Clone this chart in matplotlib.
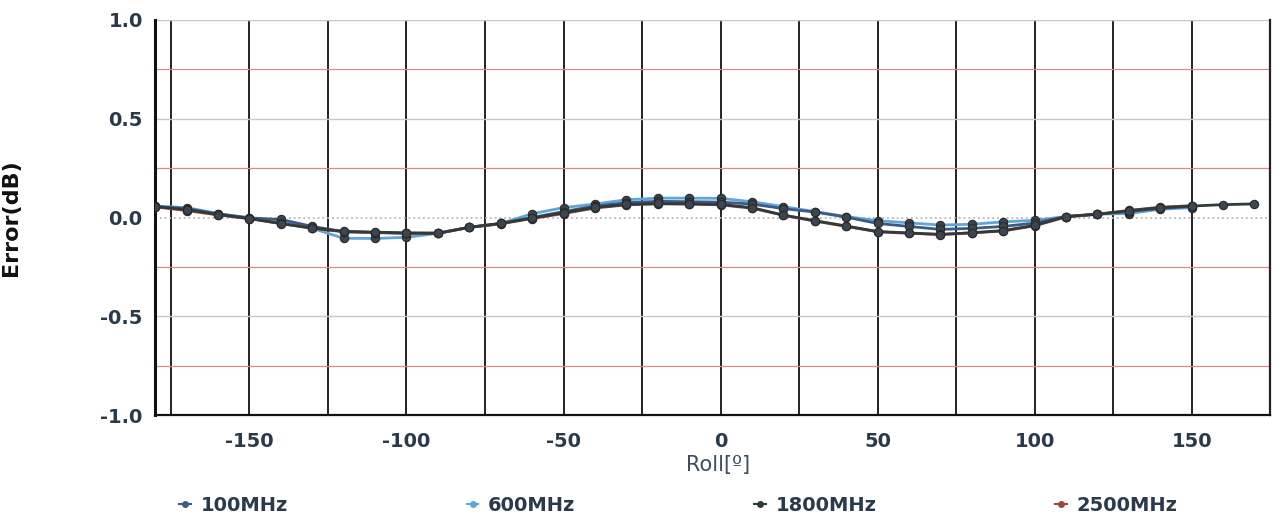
import numpy as np
import matplotlib
matplotlib.use("Agg")
import matplotlib.pyplot as plt
from matplotlib.lines import Line2D

plt.rcParams["axes.unicode_minus"] = False

# roll angles (deg)
roll = list(range(-180, 180, 10))          # -180 .. 170
roll_short = list(range(-180, 160, 10))    # -180 .. 150

err_100 = [0.056, 0.045, 0.018, -0.002, -0.010, -0.045, -0.072, -0.076, -0.080, -0.080,
           -0.050, -0.030, 0.000, 0.030, 0.058, 0.075, 0.082, 0.080, 0.078, 0.068,
           0.045, 0.028, 0.002, -0.030, -0.045, -0.060, -0.055, -0.045, -0.028, 0.005,
           0.017, 0.030, 0.046, 0.056]
err_600 = [0.058, 0.050, 0.020, -0.002, -0.020, -0.055, -0.105, -0.106, -0.100, -0.080,
           -0.050, -0.030, 0.019, 0.050, 0.068, 0.090, 0.098, 0.098, 0.097, 0.080,
           0.055, 0.030, 0.005, -0.016, -0.027, -0.038, -0.034, -0.022, -0.014, 0.005,
           0.017, 0.020, 0.042, 0.050]
err_1800 = [0.055, 0.040, 0.015, -0.005, -0.031, -0.053, -0.070, -0.074, -0.078, -0.080,
            -0.049, -0.030, -0.003, 0.024, 0.051, 0.066, 0.071, 0.069, 0.066, 0.050,
            0.012, -0.016, -0.043, -0.071, -0.078, -0.086, -0.077, -0.066, -0.040, 0.005,
            0.017, 0.034, 0.050, 0.058, 0.065, 0.069]
err_2500 = [0.054, 0.035, 0.013, -0.006, -0.030, -0.055, -0.072, -0.076, -0.079, -0.078,
            -0.050, -0.032, -0.005, 0.020, 0.048, 0.064, 0.069, 0.068, 0.064, 0.047,
            0.012, -0.018, -0.045, -0.072, -0.080, -0.085, -0.078, -0.068, -0.042, 0.003,
            0.016, 0.036, 0.052, 0.060]

labels = ["100MHz", "600MHz", "1800MHz", "2500MHz"]
colors = ["#3b5a85", "#5fa6d8", "#2f3b3b", "#9a4a44"]

fig = plt.figure(figsize=(12.83, 5.21), dpi=100)
ax = fig.add_axes([0.121, 0.203, 0.869, 0.759])

# grid
for v in np.arange(-175, 176, 25):
    ax.axvline(v, color="#222222", lw=1.4, zorder=1)
for v in [-0.75, -0.25, 0.25, 0.75]:
    ax.axhline(v, color="#d88a8a", lw=0.9, zorder=1)
for v in [-0.5, 0.5, 1.0]:
    ax.axhline(v, color="#c8c8c8", lw=1.0, zorder=1)
ax.axhline(0, color="#b8b8b8", lw=1.3, ls=":", zorder=1)

series = [(roll_short, err_600, 1), (roll_short, err_100, 0),
          (roll_short, err_2500, 3), (roll, err_1800, 2)]
for xs, ys, i in series:
    ax.plot(xs, ys, color=colors[i], lw=2, marker="o", ms=6,
            mfc="#3c4650", mec="#2a2a2a", mew=0.8, zorder=3)

ax.set_xlim(-180, 175)
ax.set_ylim(-1, 1)
ax.set_xticks([-150, -100, -50, 0, 50, 100, 150])
ax.set_yticks([-1.0, -0.5, 0.0, 0.5, 1.0])
ax.set_yticklabels(["-1.0", "-0.5", "0.0", "0.5", "1.0"])
ax.tick_params(length=0, labelsize=14, labelcolor="#2b3a4a")
ax.tick_params(axis="x", pad=12)
ax.tick_params(axis="y", pad=9)
for t in ax.get_xticklabels() + ax.get_yticklabels():
    t.set_fontweight("bold")

ax.spines["left"].set_linewidth(2.2)
ax.spines["left"].set_color("#111111")
ax.spines["bottom"].set_linewidth(1.6)
ax.spines["bottom"].set_color("#111111")
ax.spines["right"].set_linewidth(1.6)
ax.spines["right"].set_color("#222222")
ax.spines["top"].set_visible(False)

ax.set_xlabel("Roll[º]", fontsize=15, color="#3d4d5d")
ax.xaxis.set_label_coords(0.505, -0.1)
ax.set_ylabel("Error(dB)", fontsize=16, color="#111111", fontweight="bold",
              family=["Liberation Sans Narrow", "DejaVu Sans"])
ax.yaxis.set_label_coords(-0.12, 0.5)

handles = [Line2D([0], [0], color=c, lw=1.5, marker="o", ms=4) for c in colors]
fig.legend(handles, labels, ncol=4, loc="lower left", bbox_to_anchor=(0.126, -0.022),
           frameon=False, handlelength=0.6, handletextpad=0.5, columnspacing=9.2,
           prop={"size": 14, "weight": "bold"}, labelcolor="#2b3a4a")

fig.savefig("out.png", dpi=100)
